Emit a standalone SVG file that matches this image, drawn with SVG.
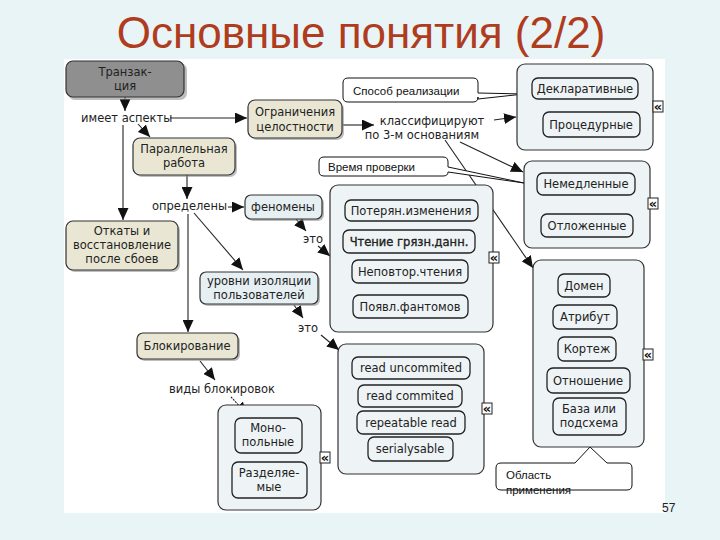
<svg xmlns="http://www.w3.org/2000/svg" width="720" height="540" viewBox="0 0 720 540">
<style>
.t{font-family:"DejaVu Sans",Verdana,sans-serif;font-size:11.5px;fill:#222;text-anchor:middle}
.lb{font-family:"DejaVu Sans",Verdana,sans-serif;font-size:11.5px;fill:#222}
.co{font-family:"Liberation Sans",Arial,sans-serif;font-size:11.5px;fill:#111}
.beige{fill:#e9e7d3;stroke:#333;stroke-width:1.2}
.gray{fill:#8f8f8f;stroke:#333;stroke-width:1.2}
.blue{fill:#e6eff2;stroke:#333;stroke-width:1.2}
.grp{fill:#eef3f5;stroke:#333;stroke-width:1.2}
.item{fill:#eef3f5;stroke:#222;stroke-width:1.3}
.sh{fill:#888;opacity:.55}
.call{fill:#fff;stroke:#111;stroke-width:1}
.ic{fill:#fff;stroke:#222;stroke-width:1}
.ict{font-family:"DejaVu Sans",sans-serif;font-size:13px;font-weight:bold;fill:#111;text-anchor:middle}
.cn line{stroke:#222;stroke-width:1.1;marker-end:url(#ah)}
</style>
<defs>
<marker id="ah" markerUnits="userSpaceOnUse" markerWidth="13" markerHeight="11" refX="12" refY="5.5" orient="auto">
<path d="M0,0 L12,5.5 L0,11 Z" fill="#111"/>
</marker>
</defs>
<rect width="720" height="540" fill="#e9f4f7"/>
<rect x="64" y="59" width="601" height="454" fill="#fff"/>
<text x="361" y="48" font-family="Liberation Sans, Arial, sans-serif" font-size="44" fill="#b03c1e" text-anchor="middle">Основные понятия (2/2)</text>
<text x="662" y="512" font-family="Liberation Sans, Arial, sans-serif" font-size="12" fill="#222">57</text>

<g id="connectors" class="cn">
<line x1="125" y1="97" x2="125" y2="111"/>
<line x1="170" y1="118" x2="247" y2="118"/>
<line x1="138" y1="124" x2="150" y2="137"/>
<line x1="123" y1="125" x2="123" y2="220"/>
<line x1="187" y1="175" x2="187" y2="199"/>
<line x1="228" y1="207" x2="244" y2="207"/>
<line x1="194" y1="213" x2="243" y2="270"/>
<line x1="188" y1="214" x2="188" y2="332"/>
<line x1="296" y1="219" x2="306" y2="231"/>
<line x1="318" y1="246" x2="330" y2="256"/>
<line x1="294" y1="305" x2="303" y2="318"/>
<line x1="321" y1="335" x2="339" y2="350"/>
<line x1="343" y1="125" x2="374" y2="125"/>
<line x1="494" y1="120" x2="516" y2="117"/>
<line x1="460" y1="142" x2="523" y2="172"/>
<line x1="445" y1="140" x2="533" y2="268"/>
<line x1="200" y1="361" x2="215" y2="380"/>
<line x1="231" y1="397" x2="247" y2="414" stroke-dasharray="2 1"/>
</g>

<g id="labels">
<text class="lb" x="81" y="122">имеет аспекты</text>
<text class="lb" x="152" y="210">определены</text>
<text class="lb" x="303" y="243">это</text>
<text class="lb" x="298" y="332">это</text>
<text class="t" x="432" y="125">классифицируют</text>
<text class="t" x="422" y="139">по 3-м основаниям</text>
<text class="t" x="222" y="393">виды блокировок</text>
</g>

<g id="n-tranzakciya">
<rect class="sh" x="68" y="63" width="119" height="37" rx="7"/>
<rect class="gray" x="66" y="61" width="118" height="36" rx="7"/>
<text class="t" x="125" y="76">Транзак-</text>
<text class="t" x="125" y="90">ция</text>
</g>
<g id="n-ogranicheniya">
<rect class="sh" x="250" y="102" width="94" height="38" rx="7"/>
<rect class="beige" x="248" y="100" width="94" height="38" rx="7"/>
<text class="t" x="295" y="116">Ограничения</text>
<text class="t" x="295" y="131">целостности</text>
</g>
<g id="n-parallel">
<rect class="sh" x="135" y="140" width="102" height="37" rx="7"/>
<rect class="beige" x="133" y="138" width="102" height="37" rx="7"/>
<text class="t" x="184" y="153">Параллельная</text>
<text class="t" x="184" y="167">работа</text>
</g>
<g id="n-otkaty">
<rect class="sh" x="68" y="223" width="112" height="49" rx="7"/>
<rect class="beige" x="66" y="221" width="112" height="49" rx="7"/>
<text class="t" x="122" y="235">Откаты и</text>
<text class="t" x="122" y="249">восстановление</text>
<text class="t" x="122" y="263">после сбоев</text>
</g>
<g id="n-fenomeny">
<rect class="sh" x="247" y="197" width="77" height="24" rx="6"/>
<rect class="blue" x="245" y="195" width="77" height="24" rx="6"/>
<text class="t" x="283" y="211">феномены</text>
</g>
<g id="n-urovni">
<rect class="sh" x="202" y="274" width="118" height="32" rx="6"/>
<rect class="blue" x="200" y="272" width="118" height="32" rx="6"/>
<text class="t" x="259" y="285">уровни изоляции</text>
<text class="t" x="259" y="299">пользователей</text>
</g>
<g id="n-blokirovanie">
<rect class="sh" x="139" y="335" width="101" height="26" rx="6"/>
<rect class="beige" x="137" y="333" width="101" height="26" rx="6"/>
<text class="t" x="187" y="350">Блокирование</text>
</g>

<g id="c-sposob">
<path class="call" d="M348,78 H473 Q478,78 478,83 V93 L524,94 L478,99 V97 Q478,102 473,102 H348 Q343,102 343,97 V83 Q343,78 348,78 Z"/>
<text class="co" x="353" y="95">Способ реализации</text>
</g>
<g id="c-vremya">
<path class="call" d="M324,157 H443 Q448,157 448,162 V167 L524,183 L448,172 Q448,176 443,176 H324 Q319,176 319,171 V162 Q319,157 324,157 Z"/>
<text class="co" x="328" y="171">Время проверки</text>
</g>
<g id="c-oblast">
<path class="call" d="M501,463 H575 L590,447 L607,463 H627 Q632,463 632,468 V485 Q632,490 627,490 H501 Q496,490 496,485 V468 Q496,463 501,463 Z"/>
<text class="co" x="506" y="479">Область</text>
<text class="co" x="506" y="494">применения</text>
</g>

<g id="g-realizaciya">
<rect class="grp" x="517" y="64" width="136" height="86" rx="8"/>
<rect class="item" x="532" y="78" width="106" height="21" rx="6"/>
<text class="t" x="585" y="93">Декларативные</text>
<rect class="item" x="543" y="112" width="97" height="25" rx="6"/>
<text class="t" x="591" y="129">Процедурные</text>
<rect class="ic" x="653" y="101" width="10" height="11"/>
<text class="ict" x="658" y="111">«</text>
</g>
<g id="g-vremya">
<rect class="grp" x="524" y="161" width="126" height="87" rx="8"/>
<rect class="item" x="537" y="173" width="98" height="22" rx="6"/>
<text class="t" x="586" y="188">Немедленные</text>
<rect class="item" x="541" y="214" width="92" height="23" rx="6"/>
<text class="t" x="587" y="230">Отложенные</text>
<rect class="ic" x="648" y="198" width="10" height="11"/>
<text class="ict" x="653" y="208">«</text>
</g>
<g id="g-fenomeny">
<rect class="grp" x="330" y="185" width="163" height="147" rx="8"/>
<rect class="item" x="345" y="200" width="133" height="21" rx="6"/>
<text class="t" x="411" y="215">Потерян.изменения</text>
<rect class="item" x="343" y="230" width="132" height="23" rx="6"/>
<text class="t" x="409" y="246" stroke="#222" stroke-width="0.35">Чтение грязн.данн.</text>
<rect class="item" x="352" y="260" width="116" height="23" rx="6"/>
<text class="t" x="410" y="276">Неповтор.чтения</text>
<rect class="item" x="353" y="295" width="115" height="23" rx="6"/>
<text class="t" x="410" y="311">Появл.фантомов</text>
<rect class="ic" x="489" y="252" width="10" height="11"/>
<text class="ict" x="494" y="262">«</text>
</g>
<g id="g-izolyaciya">
<rect class="grp" x="338" y="344" width="146" height="130" rx="8"/>
<rect class="item" x="352" y="357" width="118" height="22" rx="6"/>
<text class="t" x="411" y="372">read uncommited</text>
<rect class="item" x="358" y="385" width="104" height="22" rx="6"/>
<text class="t" x="410" y="400">read commited</text>
<rect class="item" x="357" y="411" width="108" height="23" rx="6"/>
<text class="t" x="411" y="427">repeatable read</text>
<rect class="item" x="368" y="437" width="85" height="24" rx="6"/>
<text class="t" x="410" y="453">serialysable</text>
<rect class="ic" x="482" y="403" width="10" height="11"/>
<text class="ict" x="487" y="413">«</text>
</g>
<g id="g-domen">
<rect class="grp" x="533" y="260" width="111" height="187" rx="8"/>
<rect class="item" x="558" y="274" width="52" height="23" rx="6"/>
<text class="t" x="584" y="290">Домен</text>
<rect class="item" x="553" y="305" width="64" height="24" rx="6"/>
<text class="t" x="585" y="321">Атрибут</text>
<rect class="item" x="558" y="337" width="58" height="24" rx="6"/>
<text class="t" x="587" y="353">Кортеж</text>
<rect class="item" x="547" y="368" width="83" height="25" rx="6"/>
<text class="t" x="588" y="385">Отношение</text>
<rect class="item" x="553" y="398" width="73" height="37" rx="6"/>
<text class="t" x="589" y="413">База или</text>
<text class="t" x="589" y="427">подсхема</text>
<rect class="ic" x="643" y="349" width="10" height="11"/>
<text class="ict" x="648" y="359">«</text>
</g>
<g id="g-bloki">
<rect class="grp" x="218" y="405" width="103" height="105" rx="8"/>
<rect class="item" x="235" y="418" width="67" height="35" rx="6"/>
<text class="t" x="268" y="432">Моно-</text>
<text class="t" x="268" y="446">польные</text>
<rect class="item" x="232" y="462" width="75" height="36" rx="6"/>
<text class="t" x="269" y="477">Разделяе-</text>
<text class="t" x="269" y="491">мые</text>
<rect class="ic" x="320" y="452" width="10" height="11"/>
<text class="ict" x="325" y="462">«</text>
</g>
</svg>
